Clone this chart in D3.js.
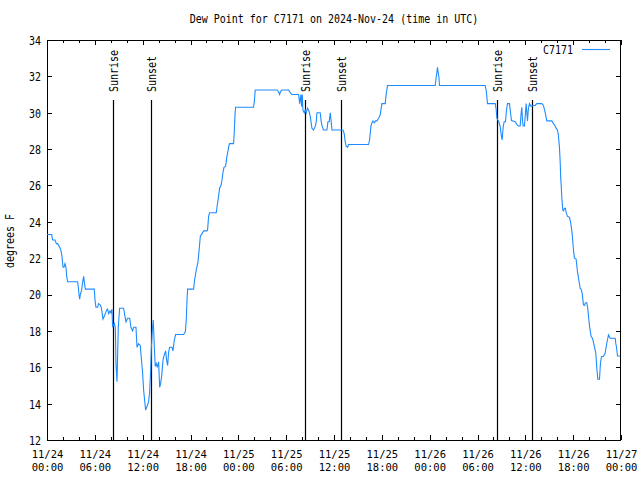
<!DOCTYPE html>
<html><head><meta charset="utf-8">
<script src="https://cdn.jsdelivr.net/npm/d3@7"></script>
<style>body{margin:0;background:#fff}svg text{font-family:"DejaVu Sans Mono",monospace;font-size:10px;fill:#000}</style>
</head><body>
<svg id="c" width="640" height="480"></svg>
<script>
// hours since 2024-11-24 00:00 UTC
const hours = [0.00,0.58,0.71,1.00,1.17,1.33,1.59,1.76,1.88,2.01,2.13,2.26,2.38,2.47,2.59,3.84,3.93,4.01,4.10,4.18,4.35,4.47,4.60,4.68,4.81,5.93,6.02,6.14,6.35,6.47,6.64,6.77,6.90,7.02,7.19,7.31,7.48,7.60,7.73,7.90,8.03,8.15,
8.23,8.44,8.57,8.65,8.78,8.94,9.11,9.61,9.74,9.91,10.11,10.37,10.53,10.74,10.87,11.16,11.29,11.49,11.70,11.79,11.99,12.12,12.24,12.37,12.54,12.74,12.87,13.00,13.08,13.21,13.33,13.46,13.58,13.71,13.83,14.00,14.13,14.25,14.38,14.55,14.71,14.88,15.00,15.13,15.25,15.38,15.67,15.80,15.97,16.13,17.14,17.35,17.47,17.56,17.64,18.39,18.51,18.72,18.94,19.10,19.23,19.64,20.06,
20.14,20.27,20.39,21.23,21.32,21.52,21.65,21.82,21.95,22.07,22.20,22.40,22.57,22.70,22.82,22.90,23.40,23.49,23.57,23.65,25.91,26.00,26.12,
28.84,29.05,29.17,29.35,29.47,30.30,30.51,30.72,31.55,31.64,31.68,31.77,31.85,31.93,32.02,32.10,32.27,32.39,32.52,32.68,32.86,33.02,33.23,33.43,33.65,33.77,33.86,34.27,34.40,34.52,34.69,35.11,35.24,35.40,35.53,35.65,35.74,37.12,37.28,37.41,37.53,37.70,37.83,40.33,40.46,40.63,40.76,40.88,41.05,41.21,41.39,41.59,
41.67,41.80,41.92,42.01,42.42,42.55,42.63,42.71,48.69,48.82,48.90,48.98,49.07,49.16,49.23,54.96,55.09,55.17,55.25,56.22,56.34,56.43,56.55,56.68,56.84,56.97,57.09,57.22,57.34,57.51,57.64,57.76,58.01,58.14,58.26,58.73,58.94,59.14,59.35,59.48,59.56,59.64,59.73,59.89,60.02,60.10,60.19,60.27,60.39,60.52,60.69,61.02,61.23,61.44,62.07,62.27,62.49,62.70,63.33,63.53,63.74,63.87,64.03,64.15,64.28,64.37,64.45,
64.49,64.58,64.70,64.78,64.91,65.03,65.12,65.29,65.54,65.71,65.87,66.04,66.16,66.37,66.54,66.71,66.88,67.00,67.13,67.29,67.42,67.54,67.71,67.84,67.97,68.09,68.26,68.42,68.67,68.84,68.97,69.09,69.30,69.42,69.55,69.80,70.01,70.14,70.30,70.43,70.64,71.27,71.35,71.43,71.56,71.90];
const dewF = [23.3,23.3,23.0,23.0,22.8,22.8,22.6,22.4,22.1,21.5,21.5,21.7,21.5,21.0,20.7,20.7,20.4,20.0,19.75,20.0,20.25,20.7,21.0,20.7,20.3,20.3,19.7,19.3,19.3,19.5,19.45,19.35,19.05,18.65,18.8,18.95,19.15,19.2,18.95,19.1,19.0,19.2,
18.2,18.4,18.2,16.2,15.2,18.2,19.25,19.25,18.9,18.5,18.7,18.7,18.2,18.0,18.2,18.2,17.1,17.3,17.2,16.7,15.7,14.75,14.2,13.65,13.85,14.1,14.6,15.85,16.95,18.05,18.6,17.1,16.05,16.2,16.0,16.3,14.9,15.1,15.5,16.4,16.7,16.9,16.4,16.1,16.8,17.1,17.1,16.9,17.5,17.8,17.8,17.95,18.6,19.7,20.3,20.3,20.8,21.35,21.8,22.55,23.2,23.5,23.5,
23.55,24.3,24.5,24.5,24.8,25.4,25.85,26.0,26.3,26.7,27.0,27.05,27.6,27.9,28.2,28.3,28.3,28.9,29.8,30.3,30.3,30.6,31.25,
31.25,31.15,31.0,31.2,31.25,31.25,31.1,31.0,31.0,30.75,30.5,30.75,31.0,30.35,31.0,30.15,30.0,30.15,30.0,30.25,30.1,29.8,29.15,29.05,29.25,29.5,30.0,30.0,29.5,29.25,29.05,29.05,29.5,29.5,30.0,29.5,29.05,29.05,28.85,28.4,28.15,28.1,28.25,28.25,28.5,29.25,29.45,29.55,29.45,29.55,29.55,29.7,
29.75,29.9,30.25,30.5,30.5,31.05,31.25,31.5,31.5,31.95,32.2,32.5,32.2,31.95,31.5,31.5,31.25,30.9,30.5,30.5,30.2,29.7,29.6,29.5,29.25,28.8,28.5,29.2,29.5,29.5,30.15,30.5,30.5,30.0,29.57,29.5,29.35,29.27,29.27,30.0,30.3,29.6,29.27,29.27,30.0,30.5,30.0,29.55,30.25,30.5,30.35,30.4,30.4,30.5,30.5,30.4,30.0,29.55,29.55,29.4,29.27,29.15,29.05,28.75,28.1,27.3,26.3,
26.1,25.3,24.65,24.6,24.75,24.75,24.5,24.3,24.25,23.9,23.37,22.45,22.0,21.95,21.26,20.8,20.34,20.3,20.07,19.43,19.4,19.55,19.55,19.2,18.6,18.14,17.68,17.6,17.13,16.77,15.94,15.34,15.34,16.22,16.58,16.6,16.77,17.13,17.5,17.78,17.6,17.6,17.3,17.13,16.62,16.62];
const sunriseHours = [8.23, 32.30, 56.43];
const sunsetHours = [12.99, 36.94, 60.89];
const yTicks = [12,14,16,18,20,22,24,26,28,30,32,34];
const xMajorHours = [0,6,12,18,24,30,36,42,48,54,60,66,72];
const xMinorHours = d3.range(0,73,2).filter(h => h % 6 !== 0);
const titleText = "Dew Point for C7171 on 2024-Nov-24 (time in UTC)";
const yLabel = "degrees F";
const seriesName = "C7171";

const base = Date.UTC(2024,10,24,0,0);
const toDate = h => new Date(base + h*3600000);
const data = hours.map((h,i) => ({t: toDate(h), v: dewF[i]}));

const L = 47, T = 40, W = 574, H = 400;
const svg = d3.select("#c");
const x = d3.scaleUtc().domain([toDate(0), toDate(72)]).range([L, L+W]);
const y = d3.scaleLinear().domain([12,34]).range([T+H, T]);
const SY = 1.2;
const lineColor = "#1e8cff";

function txt(g, s, tx, ty, rot, anchor){
  return g.append("text").attr("text-anchor", anchor||"middle")
    .attr("transform", `translate(${tx},${ty}) rotate(${rot||0}) scale(1,${SY})`).text(s);
}

const fmt1 = d3.utcFormat("%m/%d"), fmt2 = d3.utcFormat("%H:%M");

// bottom axis major
const gB = svg.append("g").attr("transform", `translate(0,${T+H})`)
  .call(d3.axisBottom(x).tickValues(xMajorHours.map(toDate)).tickSizeInner(-5).tickSizeOuter(0).tickFormat(""));
gB.selectAll(".tick text").remove();
gB.selectAll(".tick").each(function(d){
  const t = d3.select(this).append("text").attr("text-anchor","middle").style("font-size","10.5px");
  t.append("tspan").attr("x",0).attr("y", 18).text(fmt1(d));
  t.append("tspan").attr("x",0).attr("y", 30.8).text(fmt2(d));
});
svg.append("g").attr("transform", `translate(0,${T+H})`)
  .call(d3.axisBottom(x).tickValues(xMinorHours.map(toDate)).tickSizeInner(-3).tickSizeOuter(0).tickFormat(""));
// top axis
svg.append("g").attr("transform", `translate(0,${T})`)
  .call(d3.axisTop(x).tickValues(xMajorHours.map(toDate)).tickSizeInner(-5).tickSizeOuter(0).tickFormat(""));
svg.append("g").attr("transform", `translate(0,${T})`)
  .call(d3.axisTop(x).tickValues(xMinorHours.map(toDate)).tickSizeInner(-3).tickSizeOuter(0).tickFormat(""));
// left axis
const gL = svg.append("g").attr("transform", `translate(${L},0)`)
  .call(d3.axisLeft(y).tickValues(yTicks).tickSizeInner(-5).tickSizeOuter(0).tickFormat(""));
gL.selectAll(".tick").each(function(d){
  d3.select(this).append("text").attr("text-anchor","end")
    .attr("transform",`translate(-6,4.4) scale(1,${SY})`).text(d);
});
// right axis
svg.append("g").attr("transform", `translate(${L+W},0)`)
  .call(d3.axisRight(y).tickValues(yTicks).tickSizeInner(-5).tickSizeOuter(0).tickFormat(""));
svg.selectAll(".domain").remove();
svg.selectAll(".tick line").attr("stroke","#000").attr("shape-rendering","crispEdges");

// border
svg.append("rect").attr("x", L+0.5).attr("y", T+0.5).attr("width", W-1).attr("height", H)
  .attr("fill","none").attr("stroke","#000").attr("shape-rendering","crispEdges");

// sun lines
const yTopSun = y(12) + 0.85*(y(34)-y(12));
const sunEvents = sunriseHours.map(h=>({h, name:"Sunrise"})).concat(sunsetHours.map(h=>({h, name:"Sunset"})));
const gS = svg.append("g");
sunEvents.forEach(e => {
  const xx = Math.round(x(toDate(e.h)));
  gS.append("line").attr("x1", xx+0.5).attr("x2", xx+0.5).attr("y1", y(12)).attr("y2", yTopSun)
    .attr("stroke","#000").attr("stroke-width",1.2);
  txt(gS, e.name, xx+5, yTopSun-8, -90, "start");
});

// data line
const line = d3.line().x(d => x(d.t)).y(d => y(d.v));
svg.append("path").datum(data).attr("d", line).attr("fill","none")
  .attr("stroke", lineColor).attr("stroke-width", 1.1).attr("stroke-linejoin","miter");

// title, labels, legend
txt(svg, titleText, 334, 23.4, 0, "middle");
txt(svg, yLabel, 14, 241, -90, "middle");
txt(svg, seriesName, 573, 54.4, 0, "end");
svg.append("line").attr("x1", 582).attr("x2", 610).attr("y1", 49.5).attr("y2", 49.5)
  .attr("stroke", lineColor).attr("stroke-width", 1.1);
</script>
</body></html>
